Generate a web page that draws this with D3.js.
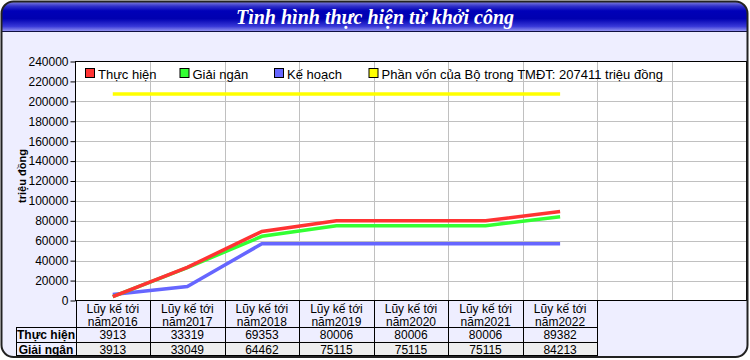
<!DOCTYPE html>
<html><head><meta charset="utf-8">
<script src="https://cdn.jsdelivr.net/npm/d3@7"></script>
<style>html,body{margin:0;padding:0;background:#fff}svg{display:block}</style>
</head><body>
<svg id="c" width="750" height="360"></svg>
<script>
const title = "Tình hình thực hiện từ khởi công";
const yTitle = "triệu đồng";
const categories = ["Lũy kế tới năm2016","Lũy kế tới năm2017","Lũy kế tới năm2018","Lũy kế tới năm2019","Lũy kế tới năm2020","Lũy kế tới năm2021","Lũy kế tới năm2022"];
const thucHien = [3913, 33319, 69353, 80006, 80006, 80006, 89382];
const giaiNgan = [3913, 33049, 64462, 75115, 75115, 75115, 84213];
const keHoach = [6000, 14000, 57000, 57000, 57000, 57000, 57000];
const phanVon = [207411, 207411, 207411, 207411, 207411, 207411, 207411];
const yTicks = [0,20000,40000,60000,80000,100000,120000,140000,160000,180000,200000,220000,240000];
const slots = 9;

const series = [
  {name:"Thực hiện", values:thucHien, color:"#ff3333"},
  {name:"Giải ngân", values:giaiNgan, color:"#33ff33"},
  {name:"Kế hoạch", values:keHoach, color:"#6666ff"},
  {name:"Phần vốn của Bộ trong TMĐT: 207411 triệu đồng", values:phanVon, color:"#ffff00"}
];
const tableRows = [
  {name:"Thực hiện", values:thucHien, fill:"#eeeeff"},
  {name:"Giải ngân", values:giaiNgan, fill:"#eeeeee"}
];

const svg = d3.select("#c");
const font = "Arial, 'Liberation Sans', sans-serif";
const defs = svg.append("defs");
const g1 = defs.append("linearGradient").attr("id","tg").attr("x1",0).attr("y1",0).attr("x2",0).attr("y2",1);
[[0,"#a0a0e8"],[0.2,"#3030c8"],[0.35,"#0000b8"],[0.6,"#0000b0"],[0.85,"#3838d8"],[1,"#9090f0"]]
  .forEach(([o,c])=>g1.append("stop").attr("offset",o).attr("stop-color",c));
defs.append("clipPath").attr("id","fc").append("rect")
  .attr("x",2).attr("y",2).attr("width",745).attr("height",354).attr("rx",11);

// frame
svg.append("rect").attr("x",1.5).attr("y",1.5).attr("width",746).attr("height",355.5)
  .attr("rx",12).attr("fill","#eeeeff");
const inner = svg.append("g").attr("clip-path","url(#fc)");
inner.append("rect").attr("x",0).attr("y",0).attr("width",750).attr("height",31).attr("fill","url(#tg)");
inner.append("line").attr("x1",0).attr("x2",750).attr("y1",31.5).attr("y2",31.5).attr("stroke","#101040");
svg.append("text").attr("x",375).attr("y",24).attr("text-anchor","middle")
  .attr("font-family","'Liberation Serif','Times New Roman',serif").attr("font-style","italic")
  .attr("font-weight","bold").attr("font-size",20).attr("fill","#fff").text(title);

const L=75.5, R=746.5, T=61.5, B=300.5;
const x = d3.scaleBand().domain(d3.range(slots)).range([L,R]);
const y = d3.scaleLinear().domain([0,240000]).range([B,T]);

inner.append("rect").attr("x",L).attr("y",T).attr("width",R-L).attr("height",B-T).attr("fill","#fff");
// grid
inner.append("g").selectAll("line").data(yTicks.slice(1,-1)).join("line")
  .attr("x1",L).attr("x2",R).attr("y1",d=>Math.round(y(d))+0.5).attr("y2",d=>Math.round(y(d))+0.5)
  .attr("stroke","#c0c0c0");
inner.append("g").selectAll("line").data(d3.range(1,slots)).join("line")
  .attr("x1",d=>Math.round(x(d))+0.5).attr("x2",d=>Math.round(x(d))+0.5).attr("y1",T).attr("y2",B)
  .attr("stroke","#c0c0c0");

// y axis
const ya = svg.append("g").attr("transform",`translate(${L},0)`)
  .call(d3.axisLeft(y).tickValues(yTicks).tickSize(5).tickPadding(2).tickFormat(d3.format("d")));
ya.select(".domain").remove();
ya.selectAll("text").attr("font-family",font).attr("font-size",12).attr("fill","#000");
ya.selectAll("line").attr("stroke","#000");
svg.append("text").attr("transform","translate(26,176) rotate(-90)").attr("text-anchor","middle")
  .attr("font-family",font).attr("font-weight","bold").attr("font-size",11).text(yTitle);

// lines
const line = d3.line().x((d,i)=>x(i)+x.bandwidth()/2).y(d=>y(d));
[series[3],series[2],series[1],series[0]].forEach(s=>{
  inner.append("path").datum(s.values).attr("d",line).attr("fill","none")
    .attr("stroke",s.color).attr("stroke-width",3.5).attr("stroke-linejoin","miter");
});
// plot border
svg.append("rect").attr("x",L).attr("y",T).attr("width",R-L).attr("height",B-T)
  .attr("fill","none").attr("stroke","#000");

// legend
const lg = svg.append("g");
series.forEach((s,i)=>{
  const lx = 85 + i*94.5;
  lg.append("rect").attr("x",lx+0.5).attr("y",68.5).attr("width",9).attr("height",9)
    .attr("fill",s.color).attr("stroke","#000");
  lg.append("text").attr("x",lx+13).attr("y",78.5).attr("font-family",font).attr("font-size",13).text(s.name);
});

// category row
const catG = inner.append("g");
const rowTop = B, rowH = 26.5;
categories.forEach((c,i)=>{
  const x0 = x(i), w = x.bandwidth();
  const parts = c.split(" ");
  const l1 = parts.slice(0,3).join(" "), l2 = parts.slice(3).join(" ");
  catG.append("text").attr("x",x0+w/2).attr("y",rowTop+12).attr("text-anchor","middle")
    .attr("font-family",font).attr("font-size",12).text(l1);
  catG.append("text").attr("x",x0+w/2).attr("y",rowTop+25).attr("text-anchor","middle")
    .attr("font-family",font).attr("font-size",12).text(l2);
});
// table rows
const tT = rowTop + rowH, rH = 14.5;
const labL = 16.5;
const colR = x(categories.length);
tableRows.forEach((r,j)=>{
  const ty = tT + j*rH;
  inner.append("rect").attr("x",L).attr("y",ty).attr("width",colR-L).attr("height",rH).attr("fill",r.fill);
  inner.append("text").attr("x",(labL+L)/2).attr("y",ty+12).attr("text-anchor","middle")
    .attr("font-family",font).attr("font-weight","bold").attr("font-size",12).text(r.name);
  r.values.forEach((v,i)=>{
    inner.append("text").attr("x",x(i)+x.bandwidth()/2).attr("y",ty+12).attr("text-anchor","middle")
      .attr("font-family",font).attr("font-size",12).text(v);
  });
});
// table lines
const tl = inner.append("g").attr("stroke","#000").attr("fill","none");
d3.range(categories.length+1).forEach(i=>{
  const xx = Math.round(x(i))+0.5;
  tl.append("line").attr("x1",xx).attr("x2",xx).attr("y1",rowTop).attr("y2",360);
});
tl.append("line").attr("x1",labL).attr("x2",labL).attr("y1",tT).attr("y2",360);
[0,1].forEach(j=>{
  const yy = Math.round(tT + j*rH)+0.5;
  tl.append("line").attr("x1",labL).attr("x2",Math.round(colR)+0.5).attr("y1",yy).attr("y2",yy);
});
tl.append("line").attr("x1",labL).attr("x2",Math.round(colR)+0.5).attr("y1",356).attr("y2",356).attr("stroke-width",2);

// frame border
svg.append("rect").attr("x",1.5).attr("y",1.5).attr("width",746).attr("height",355.5)
  .attr("rx",12).attr("fill","none").attr("stroke","#222").attr("stroke-width",2);
</script>
</body></html>
